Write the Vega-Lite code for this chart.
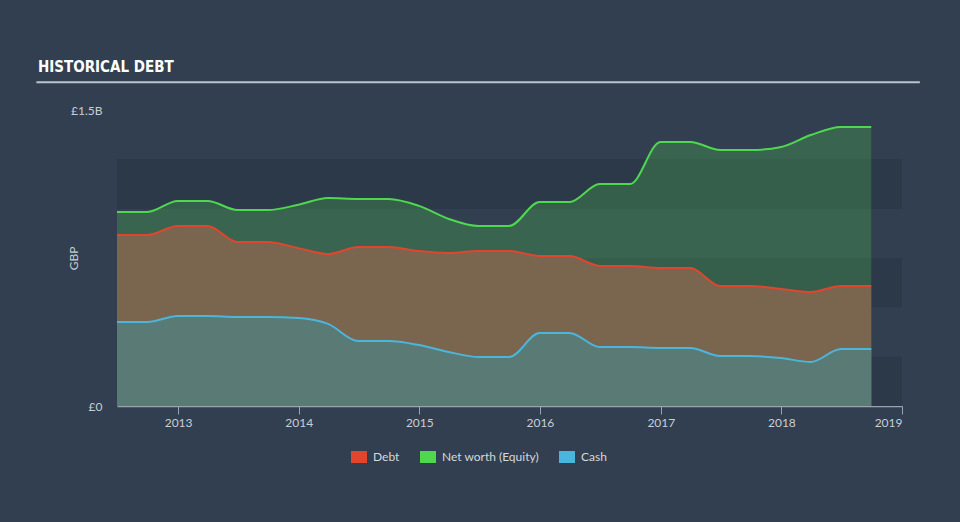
{
  "$schema": "https://vega.github.io/schema/vega-lite/v6.json",
  "width": 785,
  "height": 296,
  "autosize": "none",
  "padding": {"left": 117, "top": 110, "right": 58, "bottom": 116},
  "background": "#313f50",
  "title": {
    "text": "HISTORICAL DEBT",
    "anchor": "start",
    "frame": "group",
    "dx": -79,
    "offset": 6,
    "font": "DejaVu Sans Condensed",
    "fontSize": 15,
    "fontWeight": "bold",
    "color": "#ffffff"
  },
  "datasets": {
    "hist": [
      {"date": "2012-06-30", "debt": 867, "equity": 983, "cash": 426},
      {"date": "2012-09-30", "debt": 867, "equity": 983, "cash": 426},
      {"date": "2012-12-31", "debt": 912, "equity": 1039, "cash": 456},
      {"date": "2013-03-31", "debt": 912, "equity": 1039, "cash": 456},
      {"date": "2013-06-30", "debt": 831, "equity": 993, "cash": 451},
      {"date": "2013-09-30", "debt": 831, "equity": 993, "cash": 451},
      {"date": "2013-12-31", "debt": 800, "equity": 1020, "cash": 446},
      {"date": "2014-03-31", "debt": 770, "equity": 1054, "cash": 416},
      {"date": "2014-06-30", "debt": 806, "equity": 1049, "cash": 329},
      {"date": "2014-09-30", "debt": 806, "equity": 1049, "cash": 329},
      {"date": "2014-12-31", "debt": 785, "equity": 1014, "cash": 309},
      {"date": "2015-03-31", "debt": 775, "equity": 948, "cash": 274},
      {"date": "2015-06-30", "debt": 785, "equity": 912, "cash": 248},
      {"date": "2015-09-30", "debt": 785, "equity": 912, "cash": 248},
      {"date": "2015-12-31", "debt": 760, "equity": 1034, "cash": 370},
      {"date": "2016-03-31", "debt": 760, "equity": 1034, "cash": 370},
      {"date": "2016-06-30", "debt": 710, "equity": 1125, "cash": 299},
      {"date": "2016-09-30", "debt": 710, "equity": 1125, "cash": 299},
      {"date": "2016-12-31", "debt": 699, "equity": 1338, "cash": 294},
      {"date": "2017-03-31", "debt": 699, "equity": 1338, "cash": 294},
      {"date": "2017-06-30", "debt": 608, "equity": 1297, "cash": 253},
      {"date": "2017-09-30", "debt": 608, "equity": 1297, "cash": 253},
      {"date": "2017-12-31", "debt": 593, "equity": 1313, "cash": 243},
      {"date": "2018-03-31", "debt": 578, "equity": 1373, "cash": 223},
      {"date": "2018-06-30", "debt": 608, "equity": 1414, "cash": 289},
      {"date": "2018-09-30", "debt": 608, "equity": 1414, "cash": 289}
    ],
    "bands": [
      {"lo": 0, "hi": 250},
      {"lo": 500, "hi": 750},
      {"lo": 1000, "hi": 1250}
    ],
    "underline": [{"y": 1640}]
  },
  "layer": [
    {
      "data": {"name": "bands"},
      "mark": {"type": "rect", "color": "#2c3949"},
      "encoding": {
        "y": {"field": "lo", "type": "quantitative", "scale": {"domain": [0, 1500], "nice": false}},
        "y2": {"field": "hi"}
      }
    },
    {
      "data": {"name": "hist"},
      "mark": {"type": "area", "interpolate": "monotone", "color": "#4fd44f", "opacity": 0.25},
      "encoding": {
        "x": {"field": "date", "type": "temporal"},
        "y": {"field": "equity", "type": "quantitative"},
        "y2": {"datum": 0}
      }
    },
    {
      "data": {"name": "hist"},
      "mark": {"type": "area", "interpolate": "monotone", "color": "#7a654e", "opacity": 1},
      "encoding": {
        "x": {"field": "date", "type": "temporal"},
        "y": {"field": "debt", "type": "quantitative"},
        "y2": {"datum": 0}
      }
    },
    {
      "data": {"name": "hist"},
      "mark": {"type": "area", "interpolate": "monotone", "color": "#5a7a75", "opacity": 1},
      "encoding": {
        "x": {"field": "date", "type": "temporal"},
        "y": {"field": "cash", "type": "quantitative"},
        "y2": {"datum": 0}
      }
    },
    {
      "data": {"name": "hist"},
      "transform": [{"fold": ["debt", "equity", "cash"], "as": ["series", "value"]}],
      "mark": {"type": "line", "interpolate": "monotone", "strokeWidth": 2},
      "encoding": {
        "x": {
          "field": "date",
          "type": "temporal",
          "scale": {"domain": ["2012-06-30", "2019-01-01"]},
          "axis": {
            "title": null,
            "values": [
              {"year": 2013, "month": 1, "date": 1},
              {"year": 2014, "month": 1, "date": 1},
              {"year": 2015, "month": 1, "date": 1},
              {"year": 2016, "month": 1, "date": 1},
              {"year": 2017, "month": 1, "date": 1},
              {"year": 2018, "month": 1, "date": 1},
              {"year": 2019, "month": 1, "date": 1}
            ],
            "format": "%Y",
            "grid": false,
            "tickSize": 8,
            "tickColor": "#9aa4ae",
            "domainColor": "#9aa4ae",
            "domainWidth": 1.5,
            "labelPadding": 3
          }
        },
        "y": {
          "field": "value",
          "type": "quantitative",
          "axis": {
            "title": "GBP",
            "values": [0, 1500],
            "labelExpr": "datum.value == 0 ? '£0' : '£1.5B'",
            "grid": false,
            "domain": false,
            "ticks": false,
            "labelPadding": 15,
            "titleX": -44,
            "titleY": 148,
            "titleAngle": -90,
            "titleAlign": "center",
            "titleBaseline": "middle"
          }
        },
        "color": {
          "field": "series",
          "type": "nominal",
          "scale": {"domain": ["debt", "equity", "cash"], "range": ["#e2452e", "#4fd84f", "#4ab6de"]},
          "legend": {
            "title": null,
            "orient": "none",
            "direction": "horizontal",
            "legendX": 234,
            "legendY": 339,
            "labelExpr": "datum.value == 'debt' ? 'Debt' : (datum.value == 'equity' ? 'Net worth (Equity)' : 'Cash')",
            "symbolType": "M-1,-0.75H1V0.75H-1Z",
            "symbolSize": 256,
            "labelOffset": 6,
            "columnPadding": 20,
            "padding": 0,
            "encode": {
              "symbols": {
                "update": {
                  "fill": {"scale": "color", "field": "value"},
                  "stroke": {"value": "transparent"},
                  "strokeWidth": {"value": 0},
                  "opacity": {"value": 1}
                }
              }
            }
          }
        }
      }
    },
    {
      "data": {"name": "underline"},
      "mark": {"type": "rule", "color": "#bcc3ca", "strokeWidth": 2, "clip": false},
      "encoding": {
        "x": {"datum": {"year": 2011, "month": 10, "date": 30}, "type": "temporal"},
        "x2": {"datum": {"year": 2019, "month": 2, "date": 24}},
        "y": {"field": "y", "type": "quantitative"}
      }
    }
  ],
  "config": {
    "view": {"stroke": null},
    "axis": {
      "labelFont": "Lato",
      "labelFontSize": 12,
      "labelColor": "#c9ced3",
      "titleFont": "Lato",
      "titleFontSize": 12,
      "titleFontWeight": "normal",
      "titleColor": "#c9ced3"
    },
    "legend": {
      "labelFont": "Lato",
      "labelFontSize": 12,
      "labelColor": "#d4d8dc"
    }
  }
}
